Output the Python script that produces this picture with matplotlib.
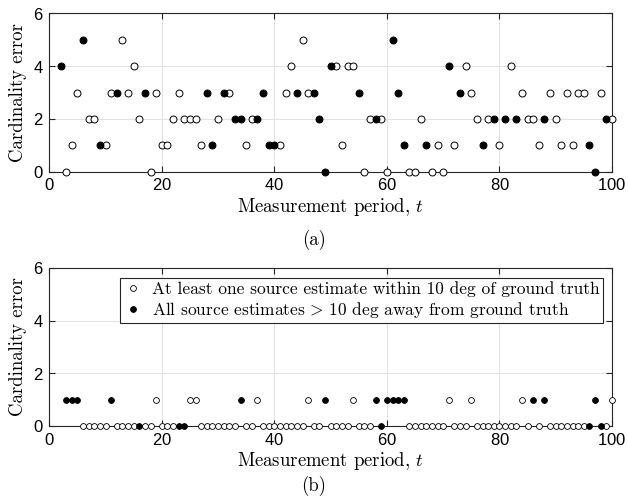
import matplotlib
matplotlib.use("Agg")
import matplotlib.pyplot as plt

plt.rcParams['mathtext.fontset'] = 'cm'
plt.rcParams['axes.formatter.use_mathtext'] = True

# ---- (a) data ----
a_open_t = [3, 4, 5, 7, 8, 10, 11, 13, 14, 15, 16, 18, 19, 20, 21, 22, 23, 24, 25, 26,
            27, 30, 32, 35, 36, 41, 42, 43, 45, 46, 51, 52, 53, 54, 56, 57, 59, 60, 64, 65,
            66, 68, 69, 70, 72, 74, 75, 76, 78, 80, 82, 84, 85, 86, 87, 89, 90, 91, 92, 93,
            94, 95, 98, 100]
a_open_err = [0, 1, 3, 2, 2, 1, 3, 5, 3, 4, 2, 0, 3, 1, 1, 2, 3, 2, 2, 2,
              1, 2, 3, 1, 2, 1, 3, 4, 5, 3, 4, 1, 4, 4, 0, 2, 2, 0, 0, 0,
              2, 0, 1, 0, 1, 4, 3, 2, 2, 1, 4, 3, 2, 2, 1, 3, 2, 1, 3, 1,
              3, 3, 3, 2]
a_fill_t = [2, 6, 9, 12, 17, 28, 29, 31, 33, 34, 37, 38, 39, 40, 44, 47, 48, 49, 50, 55,
            58, 61, 62, 63, 67, 71, 73, 77, 79, 81, 83, 88, 96, 97, 99]
a_fill_err = [4, 5, 1, 3, 3, 3, 1, 3, 2, 2, 2, 3, 1, 1, 3, 3, 2, 0, 4, 3,
              2, 5, 3, 1, 1, 4, 3, 1, 2, 2, 2, 2, 1, 0, 2]

# ---- (b) data ----
b_open_t = [6, 7, 8, 9, 10, 12, 13, 14, 15, 17, 18, 19, 20, 21, 22, 25, 26, 27, 28, 29,
            30, 31, 32, 33, 35, 36, 37, 38, 39, 40, 41, 42, 43, 44, 45, 46, 47, 48, 50, 51,
            52, 53, 54, 55, 56, 57, 64, 65, 66, 67, 68, 69, 70, 71, 72, 73, 74, 75, 76, 77,
            78, 79, 80, 81, 82, 83, 84, 85, 87, 89, 90, 91, 92, 93, 94, 95, 99, 100]
b_open_err = [0, 0, 0, 0, 0, 0, 0, 0, 0, 0, 0, 1, 0, 0, 0, 1, 1, 0, 0, 0,
              0, 0, 0, 0, 0, 0, 1, 0, 0, 0, 0, 0, 0, 0, 0, 1, 0, 0, 0, 0,
              0, 0, 1, 0, 0, 0, 0, 0, 0, 0, 0, 0, 0, 1, 0, 0, 0, 1, 0, 0,
              0, 0, 0, 0, 0, 0, 1, 0, 0, 0, 0, 0, 0, 0, 0, 0, 0, 1]
b_fill_t = [3, 4, 5, 11, 16, 23, 24, 34, 49, 58, 59, 60, 61, 62, 63, 86, 88, 96, 97, 98]
b_fill_err = [1, 1, 1, 1, 0, 0, 0, 1, 1, 1, 0, 1, 1, 1, 1, 1, 1, 0, 1, 0]

x_ticks = [0, 20, 40, 60, 80, 100]
y_ticks = [0, 2, 4, 6]
legend_labels = ["At least one source estimate within 10 deg of ground truth",
                 r"All source estimates$\,>\,$10 deg away from ground truth"]
xlabel = "Measurement period, $t$"
ylabel = "Cardinality error"

SERIF = 'cmr10'
AXC = '#262626'

fig = plt.figure(figsize=(6.28, 4.97), dpi=100)
ax1 = fig.add_axes([0.0785, 0.6545, 0.896, 0.3187])
ax2 = fig.add_axes([0.0785, 0.1429, 0.896, 0.3179])


def style(ax):
    ax.set_xlim(0, 100)
    ax.set_ylim(0, 6)
    ax.set_xticks(x_ticks)
    ax.set_yticks(y_ticks)
    ax.grid(True, color='#e3e3e3', linewidth=0.8)
    ax.set_axisbelow(True)
    for s in ax.spines.values():
        s.set_color(AXC)
        s.set_linewidth(0.8)
    ax.tick_params(direction='in', length=4, width=0.8, color=AXC,
                   top=True, right=True, labelsize=12, labelcolor='black', pad=4)
    for lab in ax.get_xticklabels() + ax.get_yticklabels():
        lab.set_fontfamily('Liberation Sans')
    ax.set_xlabel(xlabel, fontfamily=SERIF, fontsize=13.5, labelpad=2)
    ax.set_ylabel(ylabel, fontfamily=SERIF, fontsize=13.5, labelpad=4)


ax1.plot(a_open_t, a_open_err, 'o', mfc='white', mec='black', ms=5, mew=0.7,
         linestyle='none', clip_on=False, zorder=3)
ax1.plot(a_fill_t, a_fill_err, 'o', mfc='black', mec='black', ms=5, mew=0.7,
         linestyle='none', clip_on=False, zorder=3)
style(ax1)

h1, = ax2.plot(b_open_t, b_open_err, 'o', mfc='white', mec='black', ms=4.2, mew=0.6,
               linestyle='none', clip_on=False, zorder=3)
h2, = ax2.plot(b_fill_t, b_fill_err, 'o', mfc='black', mec='black', ms=4.2, mew=0.6,
               linestyle='none', clip_on=False, zorder=3)
style(ax2)

leg = ax2.legend([h1, h2], legend_labels, loc='upper right',
                 bbox_to_anchor=(0.9835, 0.937), borderaxespad=0,
                 prop={'family': SERIF, 'size': 12.5}, frameon=True, fancybox=False,
                 handlelength=1.0, handletextpad=0.6, borderpad=0.2, labelspacing=0.15)
leg.get_frame().set_edgecolor(AXC)
leg.get_frame().set_linewidth(0.8)
leg.get_frame().set_alpha(1)

fig.text(0.5, 1 - 240 / 497, "(a)", ha='center', va='center', fontfamily=SERIF, fontsize=13.5)
fig.text(0.5, 1 - 486 / 497, "(b)", ha='center', va='center', fontfamily=SERIF, fontsize=13.5)

fig.savefig("out.png", dpi=100)
